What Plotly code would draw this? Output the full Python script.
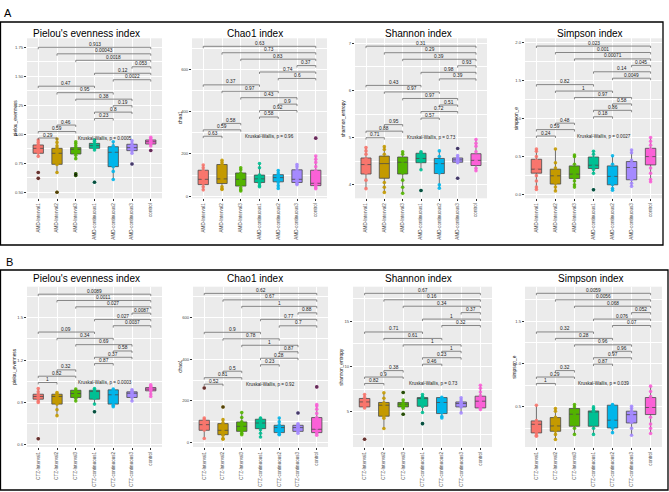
import plotly.graph_objects as go

W, H = 669, 492
COLORS = ["#F8766D", "#C49A00", "#53B400", "#00C094", "#00B6EB", "#A58AFF", "#FB61D7"]
GROUPS_A = ["AMD-Interval1", "AMD-Interval2", "AMD-Interval3", "AMD-continuous1",
            "AMD-continuous2", "AMD-continuous3", "control"]
GROUPS_B = ["CTZ-Interval1", "CTZ-Interval2", "CTZ-Interval3", "CTZ-continuous1",
            "CTZ-continuous2", "CTZ-continuous3", "control"]
PAIRS = [(1, 7), (2, 7), (3, 7), (6, 7), (4, 7), (5, 7), (1, 4), (2, 5), (3, 6),
         (5, 6), (4, 6), (4, 5), (2, 3), (1, 3), (1, 2)]

# ---------------- A : Pielou ----------------
A_PIELOU_LO = [0.81, 0.67, 0.79, 0.865, 0.61, 0.836, 0.90]
A_PIELOU_Q1 = [0.836, 0.741, 0.830, 0.879, 0.721, 0.859, 0.916]
A_PIELOU_MED = [0.879, 0.836, 0.870, 0.902, 0.845, 0.885, 0.936]
A_PIELOU_Q3 = [0.908, 0.879, 0.885, 0.922, 0.893, 0.914, 0.951]
A_PIELOU_HI = [0.951, 0.96, 0.936, 0.951, 0.936, 0.945, 0.975]
A_PIELOU_PTS = [[0.95, 0.93, 0.91, 0.90, 0.89, 0.88, 0.86, 0.84, 0.81, 0.67, 0.62],
                [0.96, 0.93, 0.90, 0.88, 0.85, 0.83, 0.80, 0.74, 0.67, 0.50],
                [0.936, 0.92, 0.90, 0.88, 0.87, 0.86, 0.84, 0.82, 0.79, 0.66, 0.645],
                [0.951, 0.94, 0.92, 0.91, 0.90, 0.89, 0.88, 0.865, 0.586],
                [0.936, 0.90, 0.88, 0.85, 0.82, 0.76, 0.72, 0.68, 0.61],
                [0.945, 0.92, 0.90, 0.89, 0.88, 0.86, 0.836, 0.744],
                [0.975, 0.96, 0.95, 0.94, 0.93, 0.92, 0.90, 0.86]]
A_PIELOU_OUT = [[0.67, 0.62], [0.50], [0.66, 0.645], [0.586], [], [0.744], [0.86]]
A_PIELOU_P = ["0.913", "0.00043", "0.0018", "0.053", "0.12", "0.0022", "0.47", "0.95",
              "0.38", "0.19", "0.8", "0.23", "0.46", "0.59", "0.29"]
A_PIELOU_KW = "Kruskal-Wallis, p = 0.0005"

# ---------------- A : Chao1 ----------------
A_CHAO_LO = [30, 32, 25, 45, 37, 55, 35]
A_CHAO_Q1 = [55, 60, 48, 65, 68, 65, 50]
A_CHAO_MED = [80, 82, 80, 82, 88, 80, 61]
A_CHAO_Q3 = [123, 150, 110, 100, 102, 125, 123]
A_CHAO_HI = [148, 170, 135, 155, 122, 150, 190]
A_CHAO_PTS = [[148, 135, 120, 100, 85, 75, 60, 45, 30],
              [170, 160, 150, 110, 90, 82, 70, 45, 35, 32],
              [135, 125, 110, 100, 85, 75, 55, 40, 30, 25],
              [155, 135, 100, 90, 80, 70, 60, 50, 45],
              [122, 110, 100, 95, 88, 80, 65, 50, 37],
              [150, 140, 125, 110, 90, 80, 70, 60, 55],
              [275, 190, 175, 160, 140, 120, 90, 60, 50, 40, 35]]
A_CHAO_OUT = [[], [], [], [], [], [], [275]]
A_CHAO_P = ["0.63", "0.73", "0.83", "0.37", "0.74", "0.6", "0.37", "0.97", "0.43",
            "0.9", "0.92", "0.58", "0.58", "0.59", "0.63"]
A_CHAO_KW = "Kruskal-Wallis, p = 0.96"

# ---------------- A : Shannon ----------------
A_SHAN_LO = [3.92, 3.84, 3.82, 4.32, 3.93, 4.45, 4.30]
A_SHAN_Q1 = [4.23, 4.14, 4.23, 4.47, 4.24, 4.48, 4.41]
A_SHAN_MED = [4.43, 4.45, 4.48, 4.56, 4.45, 4.53, 4.52]
A_SHAN_Q3 = [4.57, 4.61, 4.59, 4.67, 4.56, 4.57, 4.66]
A_SHAN_HI = [4.79, 4.81, 4.70, 4.70, 4.72, 4.62, 4.96]
A_SHAN_PTS = [[4.79, 4.72, 4.65, 4.55, 4.45, 4.35, 4.25, 4.10, 3.92],
              [4.81, 4.75, 4.65, 4.50, 4.40, 4.20, 4.05, 3.95, 3.84],
              [4.70, 4.65, 4.55, 4.50, 4.40, 4.25, 4.10, 3.95, 3.82],
              [4.70, 4.68, 4.60, 4.55, 4.50, 4.32, 3.88],
              [4.72, 4.60, 4.50, 4.45, 4.35, 4.25, 4.00, 3.93],
              [4.77, 4.62, 4.58, 4.55, 4.53, 4.50, 4.47, 4.14],
              [4.96, 4.88, 4.82, 4.70, 4.60, 4.52, 4.45, 4.35, 4.30]]
A_SHAN_OUT = [[], [], [], [3.88], [], [4.77, 4.14], []]
A_SHAN_P = ["0.31", "0.29", "0.39", "0.93", "0.98", "0.39", "0.43", "0.97", "0.97",
            "0.51", "0.72", "0.57", "0.95", "0.88", "0.71"]
A_SHAN_KW = "Kruskal-Wallis, p = 0.73"

# ---------------- A : Simpson ----------------
A_SIMP_LO = [0.07, 0.05, 0.10, 0.28, 0.06, 0.11, 0.17]
A_SIMP_Q1 = [0.283, 0.14, 0.213, 0.344, 0.13, 0.196, 0.391]
A_SIMP_MED = [0.335, 0.248, 0.27, 0.387, 0.24, 0.357, 0.50]
A_SIMP_Q3 = [0.465, 0.335, 0.378, 0.495, 0.378, 0.435, 0.609]
A_SIMP_HI = [0.596, 0.596, 0.52, 0.574, 0.508, 0.587, 0.748]
A_SIMP_PTS = [[0.60, 0.57, 0.50, 0.45, 0.40, 0.33, 0.25, 0.18, 0.10, 0.07],
              [0.60, 0.42, 0.35, 0.30, 0.25, 0.20, 0.15, 0.10, 0.05],
              [0.52, 0.50, 0.40, 0.33, 0.27, 0.22, 0.18, 0.13, 0.10],
              [0.57, 0.53, 0.48, 0.42, 0.38, 0.33, 0.28, 0.065],
              [0.51, 0.40, 0.30, 0.24, 0.18, 0.13, 0.08, 0.06],
              [0.587, 0.55, 0.45, 0.40, 0.35, 0.25, 0.20, 0.15, 0.11],
              [0.75, 0.70, 0.65, 0.60, 0.50, 0.45, 0.35, 0.28, 0.20, 0.17]]
A_SIMP_OUT = [[], [], [], [0.065], [], [], []]
A_SIMP_P = ["0.023", "0.001", "0.00071", "0.045", "0.14", "0.0049", "0.82", "1", "0.97",
            "0.58", "0.86", "0.18", "0.48", "0.59", "0.24"]
A_SIMP_KW = "Kruskal-Wallis, p = 0.0027"

# ---------------- B : Pielou ----------------
B_PIELOU_LO = [0.90, 0.806, 0.91, 0.888, 0.87, 0.91, 0.942]
B_PIELOU_Q1 = [0.923, 0.888, 0.935, 0.923, 0.888, 0.935, 0.982]
B_PIELOU_MED = [0.942, 0.942, 0.963, 0.977, 0.954, 0.965, 0.994]
B_PIELOU_Q3 = [0.958, 0.958, 0.986, 0.986, 0.989, 0.975, 1.005]
B_PIELOU_HI = [0.998, 0.97, 0.995, 0.998, 0.995, 0.99, 1.024]
B_PIELOU_PTS = [[0.998, 0.975, 0.955, 0.94, 0.93, 0.91, 0.90, 0.642],
                [0.97, 0.96, 0.95, 0.94, 0.92, 0.90, 0.888, 0.848, 0.806],
                [0.995, 0.98, 0.97, 0.96, 0.95, 0.93, 0.91],
                [0.998, 0.99, 0.98, 0.97, 0.95, 0.93, 0.888, 0.834],
                [0.995, 0.985, 0.97, 0.955, 0.94, 0.90, 0.88, 0.87],
                [0.99, 0.98, 0.97, 0.96, 0.95, 0.935, 0.91],
                [1.024, 1.015, 1.005, 0.995, 0.99, 0.98, 0.96, 0.942]]
B_PIELOU_OUT = [[0.642], [], [], [0.834], [], [], []]
B_PIELOU_P = ["0.0089", "0.0011", "0.027", "0.0087", "0.027", "0.0037", "0.09", "0.34",
              "0.69", "0.58", "0.37", "0.87", "0.32", "0.82", "1"]
B_PIELOU_KW = "Kruskal-Wallis, p = 0.0003"

# ---------------- B : Chao1 ----------------
B_CHAO_LO = [20, 16, 38, 27, 38, 45, 35]
B_CHAO_Q1 = [59, 38, 54, 67, 48, 54, 48]
B_CHAO_MED = [86, 59, 78, 94, 72, 72, 64]
B_CHAO_Q3 = [107, 91, 99, 112, 83, 83, 120]
B_CHAO_HI = [118, 110, 144, 118, 118, 90, 182]
B_CHAO_PTS = [[262, 118, 110, 100, 90, 85, 70, 60, 20],
              [171, 110, 95, 80, 65, 55, 45, 35, 20, 16],
              [144, 120, 100, 90, 80, 70, 55, 45, 38],
              [118, 115, 110, 100, 94, 80, 62, 45, 27],
              [118, 100, 85, 75, 70, 60, 50, 40, 38],
              [142, 90, 85, 80, 74, 70, 60, 54, 45],
              [267, 182, 175, 160, 140, 120, 90, 70, 55, 45, 35]]
B_CHAO_OUT = [[262], [171], [], [], [], [142], [267]]
B_CHAO_P = ["0.62", "0.67", "1", "0.88", "0.77", "0.7", "0.9", "0.78", "1", "0.87",
            "0.28", "0.23", "0.5", "0.81", "0.52"]
B_CHAO_KW = "Kruskal-Wallis, p = 0.92"

# ---------------- B : Shannon ----------------
B_SHAN_LO = [5.44, 3.17, 5.40, 4.93, 4.34, 4.89, 5.26]
B_SHAN_Q1 = [5.55, 4.53, 5.55, 5.62, 4.82, 5.55, 5.44]
B_SHAN_MED = [6.10, 5.74, 5.85, 6.55, 6.04, 5.92, 6.18]
B_SHAN_Q3 = [6.48, 6.04, 6.04, 6.58, 6.58, 6.10, 6.73]
B_SHAN_HI = [6.92, 7.10, 6.30, 6.92, 6.60, 6.55, 7.94]
B_SHAN_PTS = [[6.92, 6.60, 6.30, 6.10, 5.90, 5.60, 5.44, 1.99],
              [7.10, 6.50, 6.00, 5.80, 5.50, 4.50, 4.30, 3.17],
              [7.14, 6.30, 6.00, 5.85, 5.70, 5.55, 5.40, 4.75],
              [6.92, 6.70, 6.60, 6.55, 6.20, 5.60, 4.93, 3.71],
              [6.60, 6.50, 6.30, 6.04, 5.60, 4.90, 4.50, 4.34],
              [6.55, 6.30, 6.10, 6.00, 5.90, 5.70, 5.55, 4.89],
              [7.94, 7.60, 7.20, 6.80, 6.50, 6.20, 5.90, 5.50, 5.26]]
B_SHAN_OUT = [[1.99], [], [7.14, 4.75], [3.71], [], [], []]
B_SHAN_P = ["0.67", "0.16", "0.34", "0.37", "1", "0.32", "0.71", "0.61", "1", "1",
            "0.23", "0.46", "0.38", "0.9", "0.82"]
B_SHAN_KW = "Kruskal-Wallis, p = 0.73"

# ---------------- B : Simpson ----------------
B_SIMP_LO = [0.158, 0.12, 0.18, 0.18, 0.20, 0.17, 0.19]
B_SIMP_Q1 = [0.197, 0.216, 0.275, 0.275, 0.255, 0.313, 0.411]
B_SIMP_MED = [0.298, 0.278, 0.415, 0.45, 0.345, 0.41, 0.493]
B_SIMP_Q3 = [0.337, 0.376, 0.481, 0.453, 0.52, 0.45, 0.609]
B_SIMP_HI = [0.52, 0.481, 0.527, 0.50, 0.527, 0.507, 0.742]
B_SIMP_PTS = [[0.52, 0.34, 0.31, 0.29, 0.25, 0.20, 0.17, 0.158],
              [0.48, 0.45, 0.38, 0.30, 0.27, 0.22, 0.18, 0.12],
              [0.527, 0.50, 0.45, 0.42, 0.38, 0.30, 0.25, 0.18],
              [0.50, 0.48, 0.46, 0.45, 0.40, 0.30, 0.25, 0.18],
              [0.527, 0.52, 0.45, 0.38, 0.345, 0.30, 0.25, 0.20],
              [0.507, 0.48, 0.45, 0.41, 0.38, 0.32, 0.25, 0.17],
              [0.742, 0.68, 0.62, 0.55, 0.50, 0.45, 0.38, 0.30, 0.25, 0.19]]
B_SIMP_OUT = [[], [], [], [], [], [], []]
B_SIMP_P = ["0.0059", "0.0056", "0.068", "0.052", "0.076", "0.07", "0.32", "0.28",
            "0.96", "0.96", "0.97", "0.87", "0.32", "0.29", "1"]
B_SIMP_KW = "Kruskal-Wallis, p = 0.039"

# bracket levels (lowest, highest) and axis settings per panel
PANELS = [
    dict(title="Pielou's evenness index", ytitle="pielou_evenness", groups=GROUPS_A,
         stats=(A_PIELOU_LO, A_PIELOU_Q1, A_PIELOU_MED, A_PIELOU_Q3, A_PIELOU_HI),
         pts=A_PIELOU_PTS, out=A_PIELOU_OUT, p=A_PIELOU_P, kw=A_PIELOU_KW,
         br=(0.968, 1.75), yr=(0.448, 1.828), tick0=0.5, dtick=0.25, fmt=".2f"),
    dict(title="Chao1 index", ytitle="chao1", groups=GROUPS_A,
         stats=(A_CHAO_LO, A_CHAO_Q1, A_CHAO_MED, A_CHAO_Q3, A_CHAO_HI),
         pts=A_CHAO_PTS, out=A_CHAO_OUT, p=A_CHAO_P, kw=A_CHAO_KW,
         br=(284, 710), yr=(-10, 748), tick0=0, dtick=200, fmt="d"),
    dict(title="Shannon index", ytitle="shannon_entropy", groups=GROUPS_A,
         stats=(A_SHAN_LO, A_SHAN_Q1, A_SHAN_MED, A_SHAN_Q3, A_SHAN_HI),
         pts=A_SHAN_PTS, out=A_SHAN_OUT, p=A_SHAN_P, kw=A_SHAN_KW,
         br=(5.0, 6.94), yr=(3.715, 7.107), tick0=4, dtick=1, fmt="d"),
    dict(title="Simpson index", ytitle="simpson_e", groups=GROUPS_A,
         stats=(A_SIMP_LO, A_SIMP_Q1, A_SIMP_MED, A_SIMP_Q3, A_SIMP_HI),
         pts=A_SIMP_PTS, out=A_SIMP_OUT, p=A_SIMP_P, kw=A_SIMP_KW,
         br=(0.77, 1.95), yr=(-0.047, 2.052), tick0=0, dtick=0.5, fmt=".1f"),
    dict(title="Pielou's evenness index", ytitle="pielou_evenness", groups=GROUPS_B,
         stats=(B_PIELOU_LO, B_PIELOU_Q1, B_PIELOU_MED, B_PIELOU_Q3, B_PIELOU_HI),
         pts=B_PIELOU_PTS, out=B_PIELOU_OUT, p=B_PIELOU_P, kw=B_PIELOU_KW,
         br=(1.041, 1.667), yr=(0.584, 1.72), tick0=0.6, dtick=0.3, fmt=".1f"),
    dict(title="Chao1 index", ytitle="chao1", groups=GROUPS_B,
         stats=(B_CHAO_LO, B_CHAO_Q1, B_CHAO_MED, B_CHAO_Q3, B_CHAO_HI),
         pts=B_CHAO_PTS, out=B_CHAO_OUT, p=B_CHAO_P, kw=B_CHAO_KW,
         br=(280, 715), yr=(-21, 747), tick0=0, dtick=200, fmt="d"),
    dict(title="Shannon index", ytitle="shannon_entropy", groups=GROUPS_B,
         stats=(B_SHAN_LO, B_SHAN_Q1, B_SHAN_MED, B_SHAN_Q3, B_SHAN_HI),
         pts=B_SHAN_PTS, out=B_SHAN_OUT, p=B_SHAN_P, kw=B_SHAN_KW,
         br=(8.13, 18.05), yr=(1.14, 18.78), tick0=5, dtick=5, fmt="d"),
    dict(title="Simpson index", ytitle="simpson_e", groups=GROUPS_B,
         stats=(B_SIMP_LO, B_SIMP_Q1, B_SIMP_MED, B_SIMP_Q3, B_SIMP_HI),
         pts=B_SIMP_PTS, out=B_SIMP_OUT, p=B_SIMP_P, kw=B_SIMP_KW,
         br=(0.773, 1.823), yr=(0.033, 1.90), tick0=0.5, dtick=0.5, fmt=".1f"),
]

# layout geometry in pixels: (left, right, top, bottom), title x, y-title x
BOXES = [(27, 162, 38.3, 198.3), (192, 327, 38.3, 198.3), (355, 487, 38.3, 198.3), (525, 662, 38.3, 198.3),
         (27, 162, 286.7, 447), (193, 328, 286.7, 447), (353, 492, 286.7, 447), (525, 662, 286.7, 447)]
TITLE_X = [87, 255, 418, 590, 87, 255, 418, 591]
TITLE_Y = [33, 33, 33, 33, 278, 278, 278, 278]
YTITLE_X = [15, 180, 343, 516, 15, 181, 342, 515]

FONT = "Liberation Sans, Arial, sans-serif"
fig = go.Figure()
annotations = []
shapes = []
layout = {}

for k, pn in enumerate(PANELS):
    n = k + 1
    xa = "x" if n == 1 else f"x{n}"
    ya = "y" if n == 1 else f"y{n}"
    l, r, t, b = BOXES[k]
    lo, q1, med, q3, hi = pn["stats"]
    for g in range(7):
        fig.add_trace(go.Box(
            x=[g + 1], lowerfence=[lo[g]], q1=[q1[g]], median=[med[g]], q3=[q3[g]],
            upperfence=[hi[g]], width=0.55, fillcolor=COLORS[g],
            line=dict(color="#4a4a4a", width=0.8), whiskerwidth=0,
            boxpoints=False, showlegend=False, xaxis=xa, yaxis=ya))
        fig.add_trace(go.Scatter(
            x=[g + 1] * len(pn["pts"][g]), y=pn["pts"][g], mode="markers",
            marker=dict(color=COLORS[g], size=3.6, opacity=0.9, line=dict(width=0)),
            showlegend=False, xaxis=xa, yaxis=ya))
        if pn["out"][g]:
            fig.add_trace(go.Scatter(
                x=[g + 1] * len(pn["out"][g]), y=pn["out"][g], mode="markers",
                marker=dict(color="rgba(0,0,0,0.6)", size=3.6, line=dict(width=0)),
                showlegend=False, xaxis=xa, yaxis=ya))
    # significance brackets
    y0, y1 = pn["br"]
    rng = pn["yr"][1] - pn["yr"][0]
    tip = 0.012 * rng
    for i, (a, c) in enumerate(PAIRS):
        h = y1 - i * (y1 - y0) / 14.0
        fig.add_trace(go.Scatter(
            x=[a, a, c, c], y=[h - tip, h, h, h - tip], mode="lines",
            line=dict(color="#5a5a5a", width=0.7), showlegend=False,
            hoverinfo="skip", xaxis=xa, yaxis=ya))
        annotations.append(dict(
            x=(a + c) / 2, y=h, xref=xa, yref=ya, text=pn["p"][i], showarrow=False,
            yanchor="bottom", yshift=-1.5, font=dict(size=4.8, color="#222", family=FONT)))
    annotations.append(dict(
        x=4.55, y=y0, xref=xa, yref=ya, text=pn["kw"], showarrow=False,
        yanchor="middle", font=dict(size=4.6, color="#222", family=FONT)))
    # axes
    xkey = "xaxis" if n == 1 else f"xaxis{n}"
    ykey = "yaxis" if n == 1 else f"yaxis{n}"
    layout[xkey] = dict(
        domain=[l / W, r / W], anchor=ya, range=[0.4, 7.6],
        tickmode="array", tickvals=list(range(1, 8)), ticktext=pn["groups"],
        tickangle=-90, tickfont=dict(size=4.6, color="#4d4d4d", family=FONT),
        showgrid=True, gridcolor="white", gridwidth=0.8, zeroline=False,
        ticks="outside", ticklen=2, tickwidth=0.5, tickcolor="#333", showline=False)
    layout[ykey] = dict(
        domain=[1 - b / H, 1 - t / H], anchor=xa, range=list(pn["yr"]),
        tickmode="linear", tick0=pn["tick0"], dtick=pn["dtick"], tickformat=pn["fmt"],
        tickfont=dict(size=4.2, color="#4d4d4d", family=FONT),
        showgrid=True, gridcolor="white", gridwidth=0.8, zeroline=False,
        minor=dict(dtick=pn["dtick"] / 2, showgrid=True, gridcolor="white", gridwidth=0.35),
        ticks="outside", ticklen=2, tickwidth=0.5, tickcolor="#333", showline=False)
    annotations.append(dict(
        x=TITLE_X[k] / W, y=1 - TITLE_Y[k] / H, xref="paper", yref="paper",
        text=pn["title"], showarrow=False, xanchor="center", yanchor="middle",
        font=dict(size=10, color="black", family=FONT)))
    annotations.append(dict(
        x=YTITLE_X[k] / W, y=1 - (t + b) / 2 / H, xref="paper", yref="paper",
        text=pn["ytitle"], textangle=-90, showarrow=False, xanchor="center", yanchor="middle",
        font=dict(size=4.8, color="#222", family=FONT)))

# row frames and row labels
shapes.append(dict(type="rect", xref="paper", yref="paper", x0=0.5 / W, x1=663 / W,
                   y0=1 - 245 / H, y1=1 - 22 / H, line=dict(color="black", width=1.3)))
shapes.append(dict(type="rect", xref="paper", yref="paper", x0=0.5 / W, x1=668 / W,
                   y0=1 - 490 / H, y1=1 - 270 / H, line=dict(color="black", width=1.3)))
annotations.append(dict(x=2 / W, y=1 - 13 / H, xref="paper", yref="paper", text="A",
                        showarrow=False, xanchor="left", yanchor="middle",
                        font=dict(size=11, color="black", family=FONT)))
annotations.append(dict(x=4 / W, y=1 - 262 / H, xref="paper", yref="paper", text="B",
                        showarrow=False, xanchor="left", yanchor="middle",
                        font=dict(size=11, color="black", family=FONT)))

fig.update_layout(
    width=W, height=H, margin=dict(l=0, r=0, t=0, b=0),
    paper_bgcolor="white", plot_bgcolor="#EBEBEB", showlegend=False,
    annotations=annotations, shapes=shapes, **layout)

fig.write_html("out.html")
